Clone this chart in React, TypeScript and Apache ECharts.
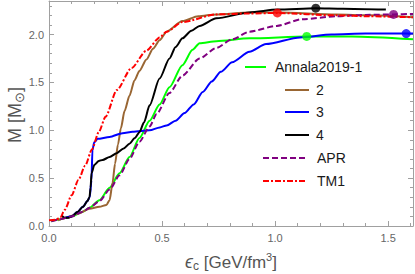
import React, { useEffect, useRef } from 'react';
import * as echarts from 'echarts';

// M(eps_c) curves: [eps_c (GeV/fm^3), M (Msun)]
const annala: number[][] = [
  [0.01, 0.05], [0.05, 0.07], [0.1, 0.1], [0.15, 0.15], [0.179, 0.19], [0.223, 0.27],
  [0.268, 0.4], [0.312, 0.55], [0.356, 0.72], [0.4, 0.92], [0.445, 1.1], [0.489, 1.27],
  [0.533, 1.45], [0.59, 1.68], [0.635, 1.84], [0.666, 1.91], [0.74, 1.93], [0.887, 1.96],
  [1.14, 1.98], [1.34, 1.98], [1.61, 1.95],
];
const eos2: number[][] = [
  [0.04, 0.06], [0.08, 0.09], [0.13, 0.13], [0.179, 0.18], [0.223, 0.2], [0.254, 0.22],
  [0.268, 0.27], [0.281, 0.45], [0.292, 0.65], [0.305, 0.85], [0.318, 1.02], [0.334, 1.2],
  [0.356, 1.36], [0.378, 1.52], [0.4, 1.62], [0.431, 1.74], [0.46, 1.85], [0.489, 1.94],
  [0.52, 2.03], [0.59, 2.14], [0.66, 2.19], [0.74, 2.21], [0.887, 2.23], [1.015, 2.23],
  [1.27, 2.21], [1.42, 2.2], [1.61, 2.18],
];
const eos3: number[][] = [
  [0.07, 0.085], [0.1, 0.1], [0.126, 0.146], [0.15, 0.2], [0.17, 0.26], [0.18, 0.3],
  [0.188, 0.48], [0.192, 0.79], [0.2, 0.875], [0.215, 0.91], [0.268, 0.93], [0.325, 0.97],
  [0.37, 0.985], [0.445, 1.0], [0.49, 1.03], [0.52, 1.05], [0.56, 1.1], [0.6, 1.18],
  [0.64, 1.27], [0.68, 1.4], [0.72, 1.51], [0.76, 1.61], [0.81, 1.71], [0.887, 1.82],
  [0.96, 1.9], [1.11, 1.97], [1.25, 2.0], [1.4, 2.01], [1.58, 2.01], [1.61, 2.01],
];
const eos4: number[][] = [
  [0.055, 0.11], [0.07, 0.085], [0.085, 0.085], [0.1, 0.1], [0.126, 0.146], [0.15, 0.2],
  [0.17, 0.26], [0.179, 0.3], [0.184, 0.4], [0.188, 0.55], [0.201, 0.64], [0.22, 0.68],
  [0.237, 0.69], [0.268, 0.72], [0.299, 0.76], [0.33, 0.81], [0.356, 0.86], [0.38, 0.92],
  [0.4, 0.98], [0.42, 1.08], [0.445, 1.26], [0.489, 1.54], [0.533, 1.75], [0.56, 1.87],
  [0.59, 1.96], [0.63, 2.04], [0.666, 2.09], [0.74, 2.17], [0.887, 2.23], [1.01, 2.26],
  [1.18, 2.275], [1.3, 2.27], [1.49, 2.26],
];
const apr: number[][] = [
  [0.01, 0.05], [0.05, 0.07], [0.1, 0.1], [0.15, 0.15], [0.179, 0.19], [0.223, 0.26],
  [0.268, 0.38], [0.312, 0.53], [0.356, 0.7], [0.4, 0.88], [0.445, 1.04], [0.476, 1.17],
  [0.533, 1.39], [0.59, 1.57], [0.666, 1.75], [0.74, 1.86], [0.81, 1.95], [0.887, 2.03],
  [1.007, 2.09], [1.12, 2.16], [1.27, 2.19], [1.4, 2.205], [1.524, 2.21], [1.61, 2.215],
];
const tm1: number[][] = [
  [0.0, 0.06], [0.03, 0.065], [0.05, 0.09], [0.07, 0.17], [0.1, 0.32], [0.13, 0.48],
  [0.16, 0.63], [0.19, 0.8], [0.22, 0.98], [0.25, 1.14], [0.3, 1.42], [0.365, 1.65],
  [0.43, 1.83], [0.49, 1.97], [0.52, 2.03], [0.59, 2.13], [0.74, 2.21], [0.887, 2.22],
  [1.01, 2.225], [1.27, 2.2], [1.42, 2.19], [1.61, 2.18],
];

// maximum-mass points
const annalaMax = [[1.14, 1.98]];
const eos3Max = [[1.58, 2.01]];
const eos4Max = [[1.18, 2.275]];
const aprMax = [[1.524, 2.21]];
const tm1Max = [[1.01, 2.225]];

const seriesNames = ['Annala2019-1', '2', '3', '4', 'APR', 'TM1'];
const seriesColors = ['#00ff00', '#996633', '#0000ff', '#000000', '#800080', '#ff0000'];

const X_MIN = 0;
const X_MAX = 1.61;
const Y_MIN = 0;
const Y_MAX = 2.35;

export default function App() {
  const ref = useRef<HTMLDivElement>(null);
  useEffect(() => {
    document.body.style.margin = '0';
    if (!ref.current) return;
    const chart = echarts.init(ref.current, undefined, { renderer: 'svg' });
    const frame = '#a0a0a0';
    const font = 'Liberation Sans, Arial, sans-serif';
    const fmt = (v: number) => v.toFixed(1);

    const mkX = (position: string, major: boolean, withLine: boolean, labels: boolean) => ({
      type: 'value', min: X_MIN, max: X_MAX, interval: major ? 0.5 : 0.1, position,
      axisLine: { show: withLine, onZero: false, lineStyle: { color: frame, width: 1 } },
      axisTick: { show: true, inside: true, length: major ? 5 : 3, lineStyle: { color: frame } },
      axisLabel: {
        show: labels, formatter: fmt, color: '#666', fontSize: 11, fontFamily: font, margin: 6,
        showMaxLabel: false,
      },
      splitLine: { show: false },
    });
    const mkY = (position: string, major: boolean, withLine: boolean, labels: boolean) => ({
      type: 'value', min: Y_MIN, max: Y_MAX, interval: major ? 0.5 : 0.1, position,
      axisLine: { show: withLine, onZero: false, lineStyle: { color: frame, width: 1 } },
      axisTick: { show: true, inside: true, length: major ? 5 : 3, lineStyle: { color: frame } },
      axisLabel: {
        show: labels, formatter: fmt, color: '#666', fontSize: 11, fontFamily: font, margin: 5,
        showMaxLabel: false,
      },
      splitLine: { show: false },
    });

    const curves = [annala, eos2, eos3, eos4, apr, tm1];
    const dashes: any[] = ['solid', 'solid', 'solid', 'solid', [6, 3], [6, 2, 2, 2]];
    const lineSeries = curves.map((d, i) => ({
      name: seriesNames[i], type: 'line', data: d, showSymbol: false, smooth: 0.25,
      smoothMonotone: 'x',
      lineStyle: { color: seriesColors[i], width: 2, type: dashes[i] },
      z: 2 + i,
    }));
    const dots = [
      [annalaMax, 0], [eos3Max, 2], [eos4Max, 3], [aprMax, 4], [tm1Max, 5],
    ].map(([d, i]: any) => ({
      type: 'scatter', data: d, symbolSize: 9, itemStyle: { color: seriesColors[i] }, z: 10,
    }));

    // legend
    const legendRows = [
      { y: 67, x1: 245, x2: 266, tx: 275 },
      { y: 90, x1: 285, x2: 309, tx: 316 },
      { y: 112, x1: 285, x2: 309, tx: 316 },
      { y: 135, x1: 285, x2: 309, tx: 316 },
      { y: 158, x1: 263, x2: 307, tx: 317 },
      { y: 181, x1: 263, x2: 307, tx: 317 },
    ];
    const legendGraphics: any[] = [];
    legendRows.forEach((r, i) => {
      legendGraphics.push({
        type: 'line', shape: { x1: r.x1, y1: r.y, x2: r.x2, y2: r.y },
        style: {
          stroke: seriesColors[i], lineWidth: 2,
          lineDash: Array.isArray(dashes[i]) ? dashes[i] : null,
        },
      });
      legendGraphics.push({
        type: 'text', x: r.tx, y: r.y,
        style: {
          text: seriesNames[i], fill: '#1a1a1a', fontSize: 14, fontFamily: font,
          textAlign: 'left', textVerticalAlign: 'middle',
        },
      });
    });

    chart.setOption({
      animation: false,
      backgroundColor: '#ffffff',
      grid: { left: 49, right: 2, top: 1, bottom: 48, containLabel: false },
      xAxis: [
        mkX('bottom', true, true, true),
        mkX('bottom', false, false, false),
        mkX('top', true, true, false),
        mkX('top', false, false, false),
      ],
      yAxis: [
        mkY('left', true, true, true),
        mkY('left', false, false, false),
        mkY('right', true, true, false),
        mkY('right', false, false, false),
      ],
      series: [...lineSeries, ...dots],
      graphic: [
        ...legendGraphics,
        {
          type: 'text', x: 15, y: 115, rotation: Math.PI / 2,
          style: {
            text: '{a|M [M}{b|⊙}{a|]}', textAlign: 'center', textVerticalAlign: 'middle',
            rich: {
              a: { fontSize: 18, fontFamily: font, fill: '#555' },
              b: { fontSize: 13, fontFamily: font, fill: '#555', padding: [8, 0, 0, 0] },
            },
          },
        },
        {
          type: 'text', x: 231, y: 262,
          style: {
            text: '{e|ϵ}{s|c}{a| [GeV/fm}{p|3}{a|]}', textAlign: 'center', textVerticalAlign: 'middle',
            rich: {
              e: { fontSize: 18, fontFamily: font, fill: '#555', fontStyle: 'italic' },
              s: { fontSize: 12, fontFamily: font, fill: '#555', padding: [8, 0, 0, 0] },
              a: { fontSize: 17, fontFamily: font, fill: '#555' },
              p: { fontSize: 11, fontFamily: font, fill: '#555', padding: [0, 0, 10, 0] },
            },
          },
        },
      ],
    });
    return () => chart.dispose();
  }, []);
  return <div ref={ref} style={{ width: 415, height: 274 }} />;
}
